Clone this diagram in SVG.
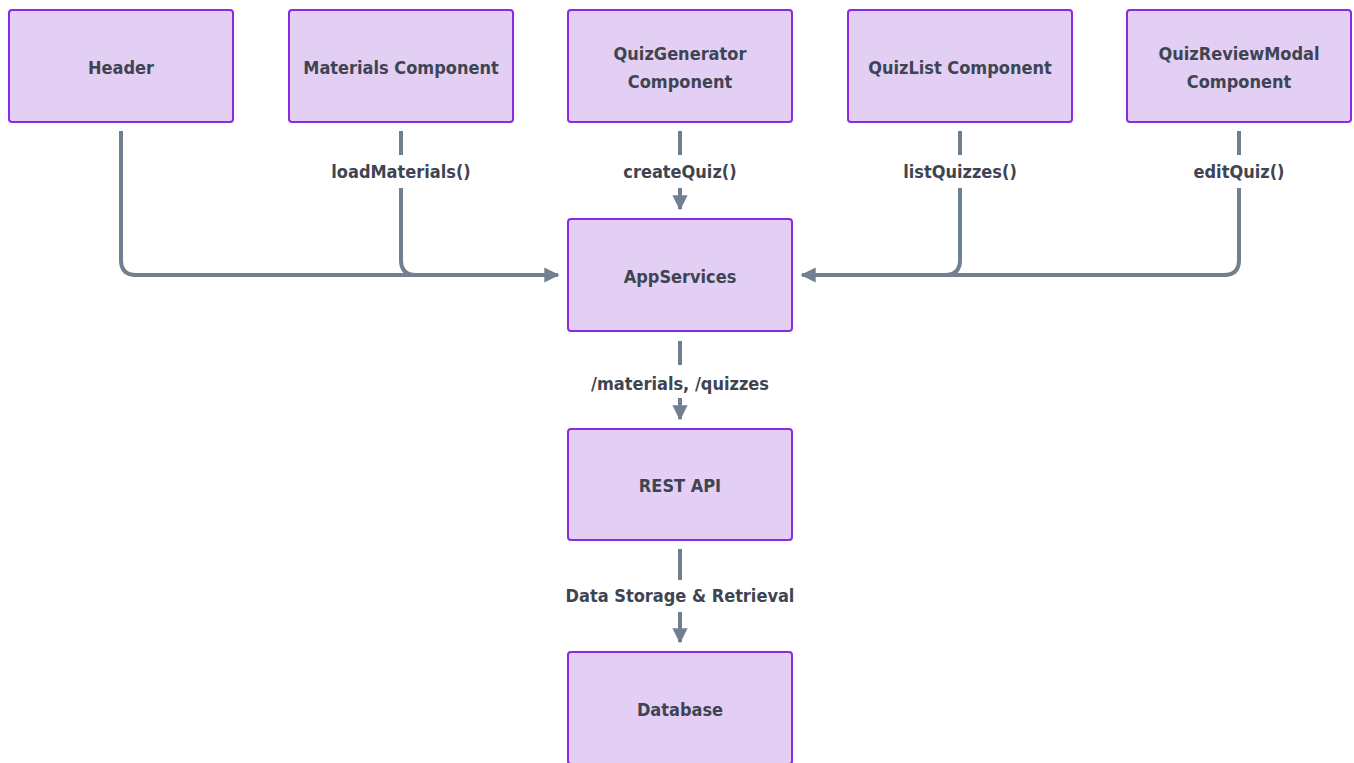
<svg xmlns="http://www.w3.org/2000/svg" width="1354" height="763" viewBox="0 0 1354 763">
<defs>
<style>
.node rect{fill:#e2cff3;stroke:#8a2be2;stroke-width:2}
.node text{font-family:"DejaVu Sans Condensed","Liberation Sans",sans-serif;font-size:18px;font-weight:bold;fill:#3e4452;text-anchor:middle}
.edge{fill:none;stroke:#718090;stroke-width:4}
.lbl{font-family:"DejaVu Sans Condensed","Liberation Sans",sans-serif;font-size:18px;font-weight:bold;fill:#3e4452;text-anchor:middle}
</style>
<marker id="ah" viewBox="0 0 10 10" refX="9" refY="5" markerWidth="3.8" markerHeight="3.8" orient="auto" markerUnits="strokeWidth">
<path d="M0,0 L10,5 L0,10 z" fill="#718090"/>
</marker>
</defs>
<rect width="1354" height="763" fill="#ffffff"/>
<g id="edges">
<path class="edge" d="M121,131 V260 Q121,275 136,275 H558" marker-end="url(#ah)"/>
<path class="edge" d="M401,131 V155"/>
<path class="edge" d="M401,188 V260 Q401,275 416,275"/>
<path class="edge" d="M680,131 V155"/>
<path class="edge" d="M680,188 V209" marker-end="url(#ah)"/>
<path class="edge" d="M960,131 V155"/>
<path class="edge" d="M960,188 V260 Q960,275 945,275"/>
<path class="edge" d="M1239,131 V155"/>
<path class="edge" d="M1239,188 V260 Q1239,275 1224,275 H802" marker-end="url(#ah)"/>
<path class="edge" d="M680,341 V365"/>
<path class="edge" d="M680,398 V419" marker-end="url(#ah)"/>
<path class="edge" d="M680,549 V580"/>
<path class="edge" d="M680,612 V642" marker-end="url(#ah)"/>
<text class="lbl" x="401" y="178">loadMaterials()</text>
<text class="lbl" x="680" y="178">createQuiz()</text>
<text class="lbl" x="960" y="178">listQuizzes()</text>
<text class="lbl" x="1239" y="178">editQuiz()</text>
<text class="lbl" x="680" y="390">/materials, /quizzes</text>
<text class="lbl" x="680" y="602">Data Storage &amp; Retrieval</text>
</g>
<g id="header" class="node"><rect x="9" y="10" width="224" height="112" rx="3"/><text x="121" y="74">Header</text></g>
<g id="materials" class="node"><rect x="289" y="10" width="224" height="112" rx="3"/><text x="401" y="74">Materials Component</text></g>
<g id="quizgen" class="node"><rect x="568" y="10" width="224" height="112" rx="3"/><text x="680" y="60">QuizGenerator</text><text x="680" y="88">Component</text></g>
<g id="quizlist" class="node"><rect x="848" y="10" width="224" height="112" rx="3"/><text x="960" y="74">QuizList Component</text></g>
<g id="quizreview" class="node"><rect x="1127" y="10" width="224" height="112" rx="3"/><text x="1239" y="60">QuizReviewModal</text><text x="1239" y="88">Component</text></g>
<g id="appservices" class="node"><rect x="568" y="219" width="224" height="112" rx="3"/><text x="680" y="283">AppServices</text></g>
<g id="restapi" class="node"><rect x="568" y="429" width="224" height="111" rx="3"/><text x="680" y="492">REST API</text></g>
<g id="database" class="node"><rect x="568" y="652" width="224" height="112" rx="3"/><text x="680" y="716">Database</text></g>
</svg>
